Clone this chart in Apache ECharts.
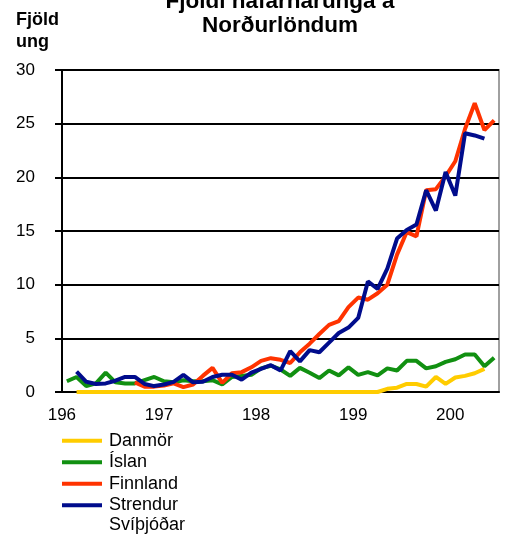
<!DOCTYPE html>
<html>
<head>
<meta charset="utf-8">
<script src="https://cdn.jsdelivr.net/npm/echarts@6/dist/echarts.min.js"></script>
<style>html,body{margin:0;padding:0;background:#fff}#c{width:511px;height:534px}</style>
</head>
<body>
<div id="c"></div>
<script>
const years = ['1960','1961','1962','1963','1964','1965','1966','1967','1968','1969',
  '1970','1971','1972','1973','1974','1975','1976','1977','1978','1979',
  '1980','1981','1982','1983','1984','1985','1986','1987','1988','1989',
  '1990','1991','1992','1993','1994','1995','1996','1997','1998','1999',
  '2000','2001','2002','2003','2004'];
const xTickLabels = ['196','197','198','199','200'];
const seriesNames = ['Danmör','Íslan','Finnland','Strendur Svíþjóðar'];

const danmork = [null,
  0,0,0,0,0,0,0,0,0,
  0,0,0,0,0,0,0,0,0,0,
  0,0,0,0,0,0,0,0,0,0,
  0,0,0,0.3,0.4,0.75,0.75,0.5,1.4,0.75,
  1.35,1.5,1.75,2.15,null];
const island = [1.0,1.4,0.55,0.8,1.8,0.9,0.8,0.8,1.1,1.4,
  1.0,0.9,1.1,1.0,1.0,1.1,0.7,1.4,1.5,1.6,
  2.2,2.45,2.1,1.5,2.25,1.8,1.3,2.0,1.55,2.3,
  1.6,1.85,1.55,2.2,2.0,2.9,2.9,2.2,2.4,2.8,
  3.05,3.5,3.5,2.4,3.2];
const finnland = [null,null,null,null,null,null,null,0.9,0.5,0.5,
  0.6,0.8,0.45,0.7,1.5,2.25,0.85,1.75,1.85,2.3,
  2.9,3.15,3.0,2.7,3.7,4.5,5.4,6.25,6.6,7.9,
  8.8,8.6,9.2,10.0,12.8,14.9,14.5,18.8,18.9,20.1,
  21.5,24.5,26.9,24.4,25.3];
const svithjod = [null,1.9,0.95,0.75,0.8,1.05,1.4,1.4,0.75,0.55,
  0.7,0.95,1.6,0.9,0.95,1.4,1.6,1.6,1.15,1.8,
  2.15,2.5,2.0,3.8,2.85,3.9,3.7,4.6,5.5,6.0,
  6.9,10.3,9.6,11.5,14.3,15.1,15.6,18.8,16.9,20.5,
  18.3,24.1,23.9,23.6,null];

const colors = ['#FFCC00','#119011','#FF3300','#000C8C'];
const values = [danmork, island, finnland, svithjod];

const chart = echarts.init(document.getElementById('c'));
chart.setOption({
  animation: false,
  textStyle: {fontFamily: 'Liberation Sans, Arial, sans-serif', color: '#000'},
  title: [
    {text: 'Fjöldi hafarnarunga á\nNorðurlöndum', left: 280, top: -10, padding: 0, textAlign: 'center',
     textStyle: {fontSize: 22.5, fontWeight: 'bold', lineHeight: 24, color: '#000'}},
    {text: 'Fjöld\nung', left: 16, top: 9, padding: 0,
     textStyle: {fontSize: 18, fontWeight: 'bold', lineHeight: 22, color: '#000'}}
  ],
  legend: {
    orient: 'vertical', left: 62, top: 430, height: 200, padding: 0,
    itemWidth: 40, itemHeight: 4, itemGap: 0, icon: 'rect',
    textStyle: {fontSize: 18, lineHeight: 21.5, color: '#000', padding: [0, 0, 0, 2]},
    formatter: function (n) { return n.split(' ')[0]; },
    data: seriesNames
  },
  graphic: [{
    type: 'text', left: 109, top: 516,
    style: {text: seriesNames[3].split(' ')[1], font: '18px "Liberation Sans", Arial, sans-serif', fill: '#000'}
  }],
  grid: {left: 62, right: 12, top: 70, bottom: 142, show: true, borderColor: '#a0a0a0', borderWidth: 2},
  xAxis: {
    type: 'category', data: years, boundaryGap: true,
    axisLine: {lineStyle: {color: '#000', width: 2}},
    axisTick: {interval: 4, length: 6, lineStyle: {color: '#000', width: 2}},
    axisLabel: {
      interval: 9, margin: 15, fontSize: 17, color: '#000',
      formatter: function (v, i) { return '{a|' + xTickLabels[Math.round(i / 10)] + '}'; },
      rich: {a: {fontSize: 17, color: '#000', padding: [0, 10, 0, 0]}}
    },
    splitLine: {show: false}
  },
  yAxis: {
    type: 'value', min: 0, max: 30, interval: 5,
    axisLine: {show: true, lineStyle: {color: '#000', width: 2}},
    axisTick: {show: true, length: 7, lineStyle: {color: '#000', width: 2}},
    axisLabel: {fontSize: 17, margin: 27, color: '#000'},
    splitLine: {lineStyle: {color: '#000', width: 2}}
  },
  series: seriesNames.map(function (n, k) {
    return {name: n, type: 'line', data: values[k], symbol: 'none', connectNulls: false,
      color: colors[k], lineStyle: {width: 4, color: colors[k]}, itemStyle: {color: colors[k]}};
  })
});
</script>
</body>
</html>
